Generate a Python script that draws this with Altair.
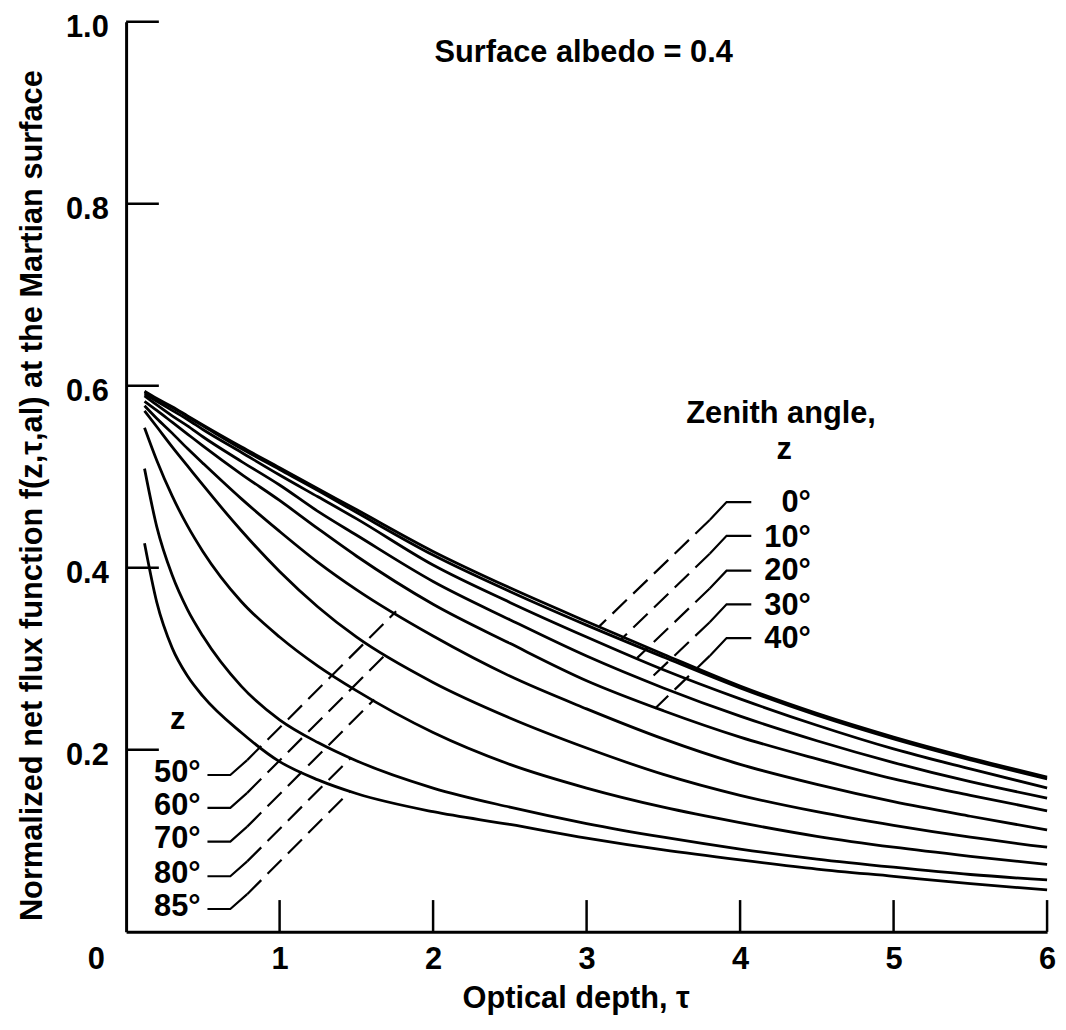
import altair as alt
import pandas as pd

# ---------------- data ----------------
tau = [0.12, 0.2, 0.3, 0.4, 0.5, 0.75, 1.0, 1.25, 1.5, 2.0, 2.5, 3.0, 3.5, 4.0, 4.5, 5.0, 5.5, 6.0]

zenith_angles = ["0°", "10°", "20°", "30°", "40°", "50°", "60°", "70°", "80°", "85°"]

f_0 = [0.594, 0.586, 0.577, 0.567, 0.557, 0.533, 0.510, 0.487, 0.464, 0.418, 0.378, 0.341, 0.305, 0.270, 0.240, 0.214, 0.191, 0.170]
f_10 = [0.593, 0.585, 0.576, 0.566, 0.556, 0.531, 0.508, 0.485, 0.461, 0.414, 0.374, 0.337, 0.302, 0.268, 0.238, 0.212, 0.189, 0.168]
f_20 = [0.591, 0.583, 0.573, 0.563, 0.552, 0.527, 0.502, 0.478, 0.454, 0.403, 0.362, 0.324, 0.288, 0.256, 0.227, 0.201, 0.179, 0.158]
f_30 = [0.589, 0.579, 0.567, 0.556, 0.544, 0.517, 0.491, 0.462, 0.436, 0.385, 0.343, 0.303, 0.268, 0.237, 0.210, 0.186, 0.165, 0.147]
f_40 = [0.583, 0.573, 0.560, 0.547, 0.534, 0.503, 0.474, 0.443, 0.413, 0.360, 0.317, 0.276, 0.243, 0.214, 0.190, 0.168, 0.150, 0.133]
f_50 = [0.578, 0.564, 0.548, 0.531, 0.515, 0.476, 0.440, 0.406, 0.376, 0.325, 0.281, 0.245, 0.212, 0.184, 0.162, 0.143, 0.127, 0.112]
f_60 = [0.5725, 0.555, 0.533, 0.512, 0.491, 0.441, 0.396, 0.357, 0.324, 0.274, 0.235, 0.202, 0.173, 0.150, 0.132, 0.117, 0.104, 0.093]
f_70 = [0.554, 0.518, 0.479, 0.446, 0.418, 0.363, 0.324, 0.292, 0.265, 0.219, 0.184, 0.158, 0.137, 0.120, 0.105, 0.093, 0.083, 0.074]
f_80 = [0.509, 0.445, 0.392, 0.354, 0.325, 0.270, 0.233, 0.208, 0.188, 0.158, 0.137, 0.119, 0.104, 0.091, 0.080, 0.071, 0.063, 0.057]
f_85 = [0.427, 0.362, 0.312, 0.281, 0.259, 0.219, 0.187, 0.167, 0.152, 0.132, 0.118, 0.103, 0.090, 0.079, 0.069, 0.061, 0.053, 0.046]
curves = [f_0, f_10, f_20, f_30, f_40, f_50, f_60, f_70, f_80, f_85]

x_tick_values = [1, 2, 3, 4, 5, 6]
y_tick_values = [0.2, 0.4, 0.6, 0.8, 1.0]

# label annotations (data coordinates)
upper_labels = ["0°", "10°", "20°", "30°", "40°"]
upper_label_f = [0.471, 0.433, 0.396, 0.358, 0.322]
upper_leader_f = [0.4722, 0.4351, 0.3969, 0.3599, 0.3228]
upper_bend_f = [0.4526, 0.4155, 0.3773, 0.3402, 0.3032]
upper_end_tau = [3.084, 3.220, 3.330, 3.394, 3.446]
upper_end_f = [0.3359, 0.3206, 0.3010, 0.2748, 0.2454]
upper_label_tau = 4.461
upper_leader_tau = [4.073, 3.912, 3.802]   # right end, corner, bend

lower_labels = ["50°", "60°", "70°", "80°", "85°"]
lower_label_f = [0.1745, 0.1385, 0.1014, 0.0632, 0.0273]
lower_leader_f = [0.1723, 0.1363, 0.0992, 0.0611, 0.0251]
lower_bend_f = [0.1887, 0.1527, 0.1156, 0.0774, 0.0414]
lower_end_tau = [1.759, 1.694, 1.616, 1.461, 1.455]
lower_end_f = [0.3522, 0.3053, 0.2552, 0.1908, 0.1538]
lower_label_tau = 0.485
lower_leader_tau = [0.530, 0.679, 0.789]   # left end, corner, bend

notes = ["Surface albedo = 0.4", "Zenith angle,", "z", "z"]
notes_tau = [2.981, 4.267, 4.287, 0.336]
notes_f = [0.9651, 0.5692, 0.5289, 0.2323]

# ---------------- tables ----------------
curve_rows = []
for z, vals in zip(zenith_angles, curves):
    for t, v in zip(tau, vals):
        curve_rows.append({"z": z, "tau": t, "f": v})
curves_df = pd.DataFrame(curve_rows)

solid_rows, dash_rows, label_rows = [], [], []
for i, lab in enumerate(upper_labels):
    pts = [(upper_leader_tau[0], upper_leader_f[i]),
           (upper_leader_tau[1], upper_leader_f[i]),
           (upper_leader_tau[2], upper_bend_f[i])]
    for k, (t, v) in enumerate(pts):
        solid_rows.append({"lab": lab, "k": k, "tau": t, "f": v})
    dash_rows.append({"lab": lab, "tau": upper_leader_tau[2], "f": upper_bend_f[i],
                      "tau2": upper_end_tau[i], "f2": upper_end_f[i]})
    label_rows.append({"lab": lab, "tau": upper_label_tau, "f": upper_label_f[i]})
for i, lab in enumerate(lower_labels):
    pts = [(lower_leader_tau[0], lower_leader_f[i]),
           (lower_leader_tau[1], lower_leader_f[i]),
           (lower_leader_tau[2], lower_bend_f[i])]
    for k, (t, v) in enumerate(pts):
        solid_rows.append({"lab": lab, "k": k, "tau": t, "f": v})
    dash_rows.append({"lab": lab, "tau": lower_leader_tau[2], "f": lower_bend_f[i],
                      "tau2": lower_end_tau[i], "f2": lower_end_f[i]})
    label_rows.append({"lab": lab, "tau": lower_label_tau, "f": lower_label_f[i]})

solid_df = pd.DataFrame(solid_rows)
dash_df = pd.DataFrame(dash_rows)
label_df = pd.DataFrame(label_rows)
notes_df = pd.DataFrame({"txt": notes, "tau": notes_tau, "f": notes_f})
xt_df = pd.DataFrame({"tau": x_tick_values})
yt_df = pd.DataFrame({"f": y_tick_values})
origin_df = pd.DataFrame({"txt": ["0"], "tau": [0.0], "f": [0.0]})

# ---------------- chart ----------------
FONT = "Liberation Sans"
FS = 31
W, H = 928, 917

xs = alt.Scale(domain=[0, 6], nice=False, zero=False)
ys = alt.Scale(domain=[0, 1], nice=False, zero=False)

x_axis = alt.Axis(values=x_tick_values, format="d", ticks=False, tickSize=0,
                  labelPadding=28, labelBaseline="middle", labelFlush=False,
                  labelFont=FONT, labelFontSize=FS, labelFontWeight="bold", labelColor="black",
                  grid=False, domainWidth=3, domainColor="black",
                  title="Optical depth, τ", titleFont=FONT, titleFontSize=FS,
                  titleFontWeight="bold", titleColor="black",
                  titleX=453, titleY=67, titleBaseline="middle", titleAlign="center")
y_axis = alt.Axis(values=y_tick_values, format=".1f", ticks=False, tickSize=0,
                  labelPadding=18, labelOffset=6, labelAlign="right", labelBaseline="middle",
                  labelFlush=False,
                  labelFont=FONT, labelFontSize=FS, labelFontWeight="bold", labelColor="black",
                  grid=False, domainWidth=3, domainColor="black",
                  title="Normalized net flux function f(z,τ,al) at the Martian surface",
                  titleFont=FONT, titleFontSize=FS, titleFontWeight="bold", titleColor="black",
                  titleX=-94, titleY=477, titleAngle=270, titleBaseline="middle",
                  titleAlign="center")

X = alt.X("tau:Q", scale=xs, axis=x_axis)
Y = alt.Y("f:Q", scale=ys, axis=y_axis)

lines = alt.Chart(curves_df).mark_line(color="black", strokeWidth=2.8,
                                       interpolate="monotone").encode(
    x=X, y=Y, detail="z:N",
)

ytick = alt.Chart(yt_df).mark_rule(color="black", strokeWidth=2.5).encode(
    y=Y, x=alt.value(0), x2=alt.value(33),
)
xtick = alt.Chart(xt_df).mark_rule(color="black", strokeWidth=2.5).encode(
    x=X, y=alt.value(H), y2=alt.value(H - 32),
)

solid = alt.Chart(solid_df).mark_line(color="black", strokeWidth=2.2).encode(
    x=X, y=Y, detail="lab:N", order="k:Q",
)
dashed = alt.Chart(dash_df).mark_rule(color="black", strokeWidth=2.2,
                                      strokeDash=[20, 9]).encode(
    x=X, y=Y, x2="tau2:Q", y2="f2:Q",
)

labels = alt.Chart(label_df).mark_text(font=FONT, fontSize=FS, fontWeight="bold",
                                       color="black", align="right",
                                       baseline="middle").encode(
    x=X, y=Y, text="lab:N",
)
notes_layer = alt.Chart(notes_df).mark_text(font=FONT, fontSize=FS, fontWeight="bold",
                                            color="black", align="center",
                                            baseline="middle").encode(
    x=X, y=Y, text="txt:N",
)
origin = alt.Chart(origin_df).mark_text(font=FONT, fontSize=FS, fontWeight="bold",
                                        color="black", align="center", baseline="middle",
                                        dx=-30, dy=28).encode(
    x=X, y=Y, text="txt:N",
)

chart = alt.layer(lines, ytick, xtick, solid, dashed, labels, notes_layer, origin).properties(
    width=W, height=H,
    autosize=alt.AutoSizeParams(type="none"),
    padding={"left": 119, "top": 10, "right": 11, "bottom": 90},
    background="white",
).configure_view(stroke=None)

chart.save("out.html", embed_options={"renderer": "svg", "actions": False})
